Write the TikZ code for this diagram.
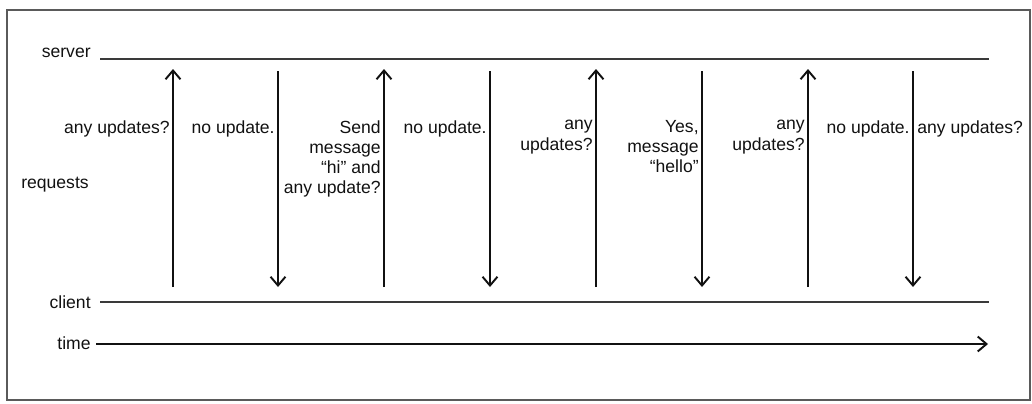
\documentclass[tikz,border=0pt]{standalone}
\usepackage{fontspec}
\setmainfont{Liberation Sans}
\usetikzlibrary{arrows.meta,positioning}
\definecolor{ink}{HTML}{111111}
\definecolor{inkgray}{HTML}{3A3A3A}
\definecolor{framegray}{HTML}{5A5A5A}
\tikzset{
  lbl/.style={font=\fontsize{10}{11.5}\selectfont,text=ink,inner sep=0pt},
  lane/.style={draw=inkgray,line width=0.6pt},
  msg/.style={draw=ink,line width=0.6pt}
}

\begin{document}
\begin{tikzpicture}[x=0.02cm,y=-0.02cm,>={Straight Barb[length=5pt,width=8.5pt,line width=1.1pt]}]
  \useasboundingbox (0,0) rectangle (1032,403);
  \draw[framegray,line width=1pt] (7,10) rectangle (1030,400);

  % the three lanes
  \node[lbl,anchor=east] (server) at (91,53) {server};
  \node[lbl,anchor=east] (client) at (91,302) {client};
  \node[lbl,anchor=east] (time) at (91,343) {time};
  \node[lbl] (requests) at (55,185) {requests};
  \coordinate (sL) at (100,59);  \coordinate (sR) at (989,59);
  \coordinate (cL) at (100,302); \coordinate (cR) at (989,302);
  \coordinate (tL) at (96,344);  \coordinate (tR) at (988,344);
  \draw[lane] (sL) -- (sR);
  \draw[lane] (cL) -- (cR);
  \draw[msg,->] (tL) -- (tR);

  % polls up, replies down
  \foreach \i/\x in {1/173,2/384,3/596,4/808} {
    \coordinate (up\i b) at (\x,287);
    \coordinate (up\i t) at (\x,69);
    \draw[msg,->] (up\i b) -- (up\i t);
  }
  \foreach \i/\x in {1/278,2/490,3/702,4/913} {
    \coordinate (dn\i t) at (\x,71);
    \coordinate (dn\i b) at (\x,287);
    \draw[msg,->] (dn\i t) -- (dn\i b);
  }

  \node[lbl,anchor=north east] (q1) at (170,120) {any updates?};
  \node[lbl,anchor=north east] (r1) at (275,120) {no update.};
  \node[lbl,anchor=north east,align=right] (q2) at (381,120) {Send\\message\\“hi” and\\any update?};
  \node[lbl,anchor=north east] (r2) at (487,120) {no update.};
  \node[lbl,anchor=north east,align=right] (q3) at (593,120) {any\\updates?};
  \node[lbl,anchor=north east,align=right] (r3) at (699,120) {Yes,\\message\\“hello”};
  \node[lbl,anchor=north east,align=right] (q4) at (805,120) {any\\updates?};
  \node[lbl,anchor=north east] (r4) at (910,120) {no update.};
  \node[lbl,anchor=north west] (q5) at (917,120) {any updates?};
\end{tikzpicture}
\end{document}
